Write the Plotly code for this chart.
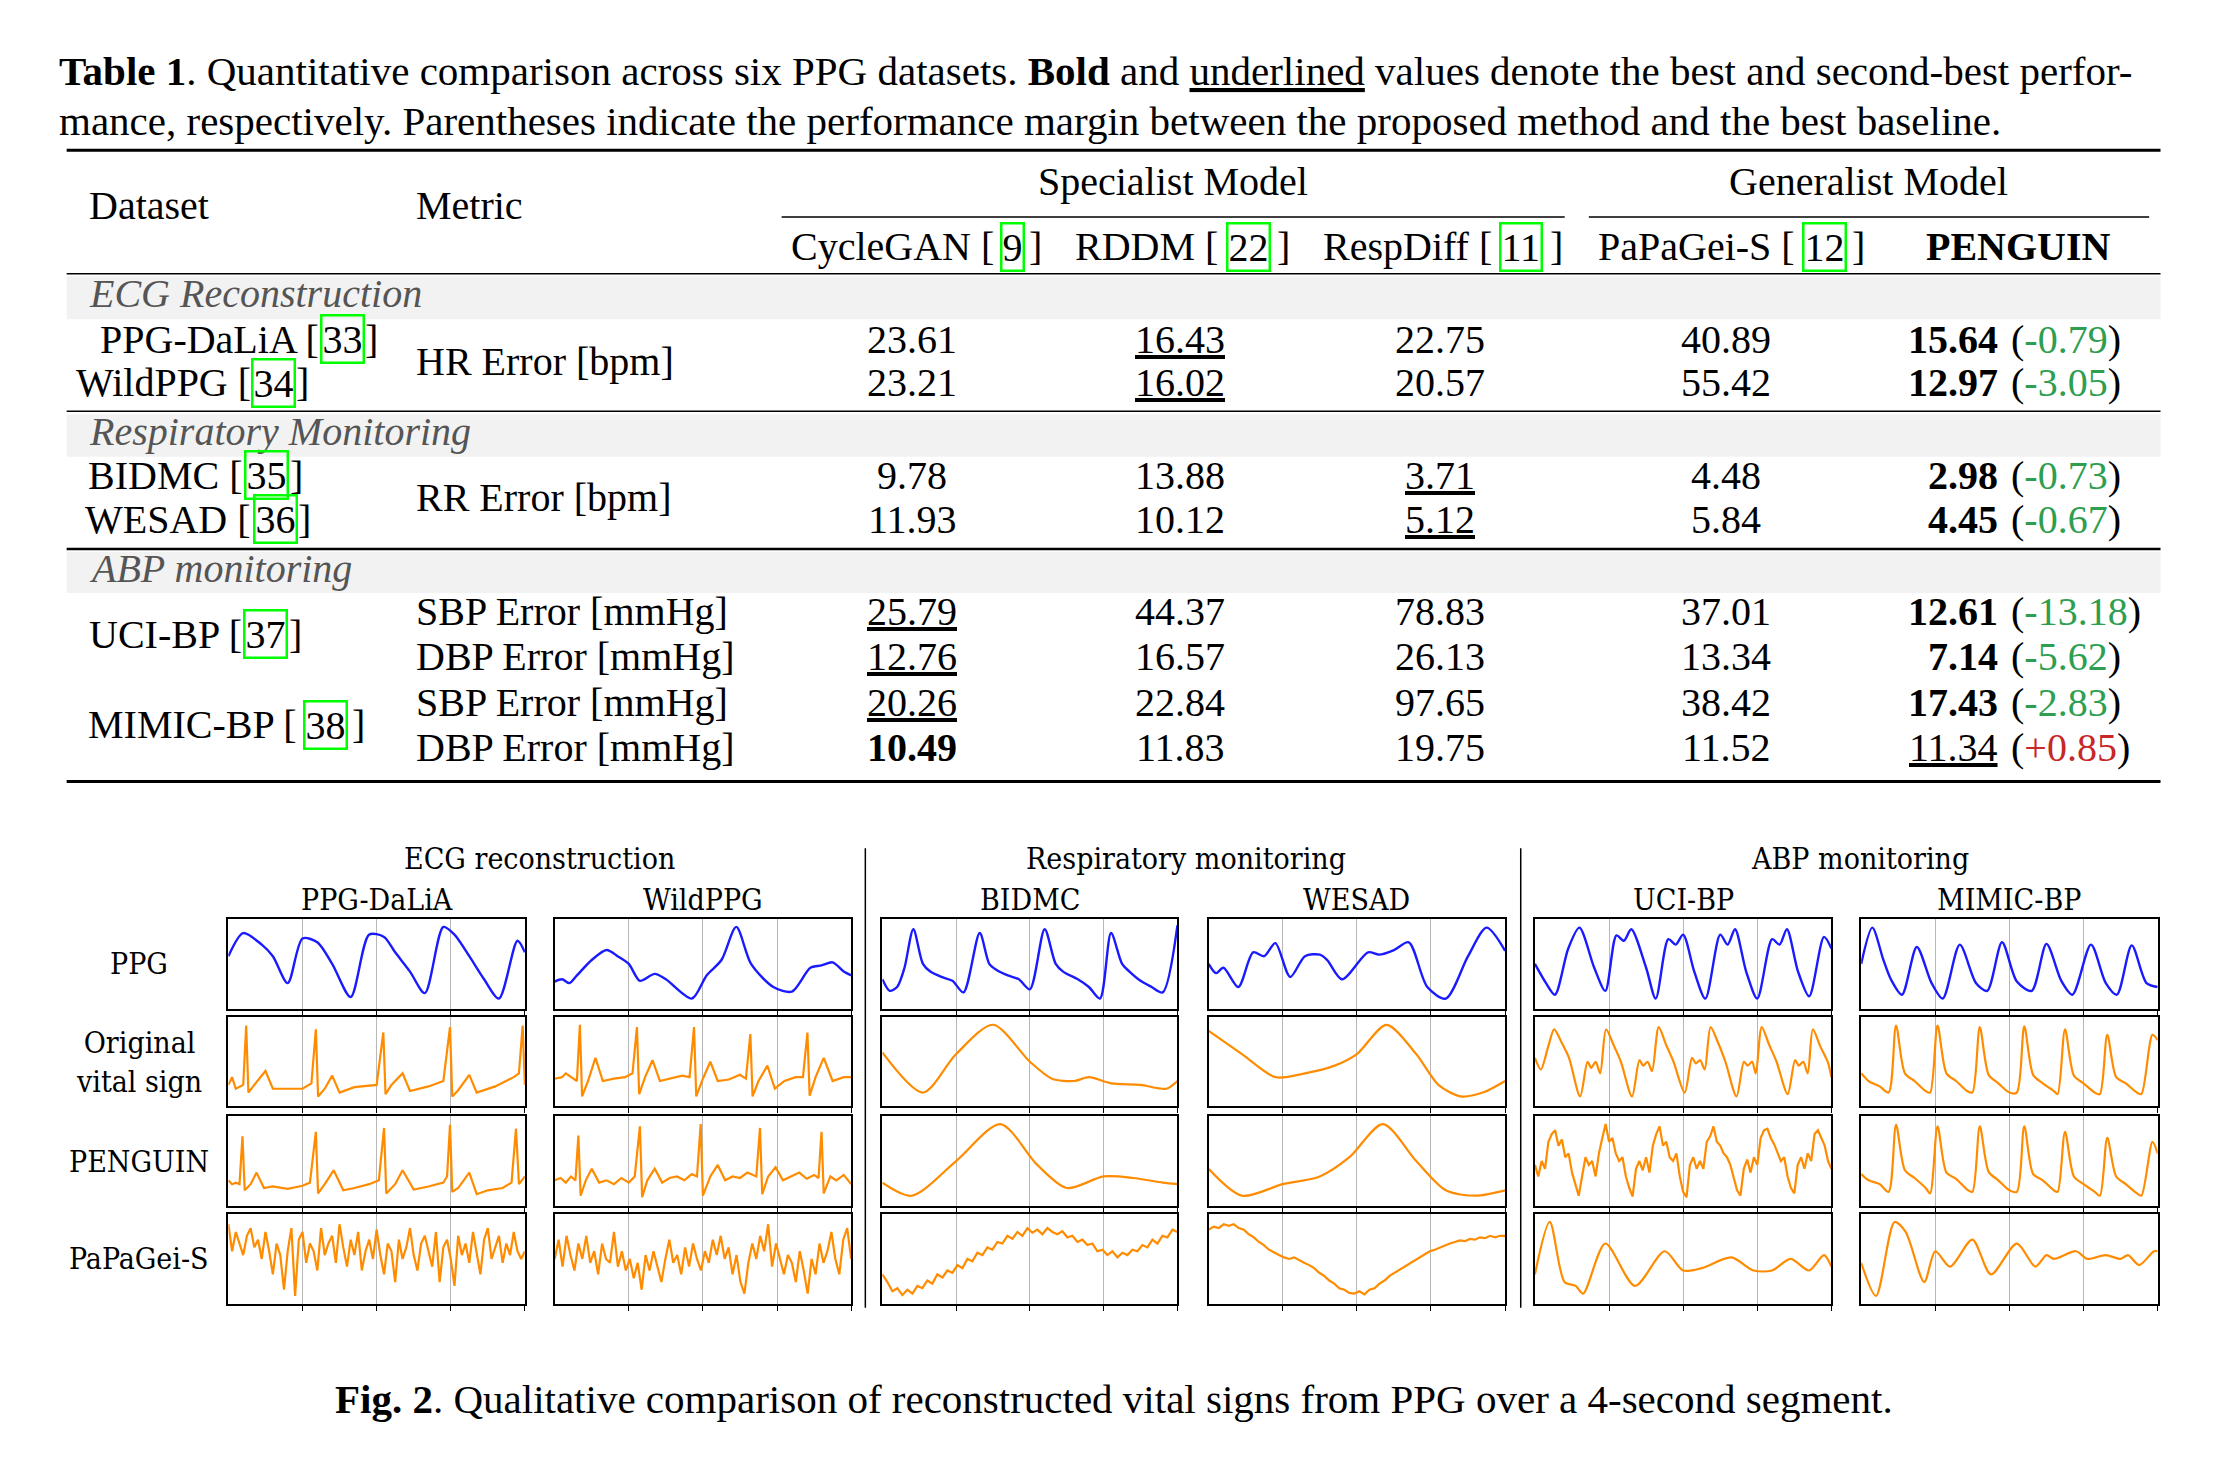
import numpy as np
import plotly.graph_objects as go

# ---------------- table data ----------------
DATASETS = ["PPG-DaLiA", "WildPPG", "BIDMC", "WESAD", "UCI-BP", "", "MIMIC-BP", ""]
DATASET_REFS = ["33", "34", "35", "36", "37", "", "38", ""]
METRICS = ["HR Error [bpm]", "RR Error [bpm]", "SBP Error [mmHg]", "DBP Error [mmHg]", "SBP Error [mmHg]", "DBP Error [mmHg]"]
METHODS = ["CycleGAN", "RDDM", "RespDiff", "PaPaGei-S", "PENGUIN"]
METHOD_REFS = ["9", "22", "11", "12", ""]
CYCLEGAN = ["23.61", "23.21", "9.78", "11.93", "25.79", "12.76", "20.26", "10.49"]
RDDM = ["16.43", "16.02", "13.88", "10.12", "44.37", "16.57", "22.84", "11.83"]
RESPDIFF = ["22.75", "20.57", "3.71", "5.12", "78.83", "26.13", "97.65", "19.75"]
PAPAGEI = ["40.89", "55.42", "4.48", "5.84", "37.01", "13.34", "38.42", "11.52"]
PENGUIN = ["15.64", "12.97", "2.98", "4.45", "12.61", "7.14", "17.43", "11.34"]
MARGINS = ["-0.79", "-3.05", "-0.73", "-0.67", "-13.18", "-5.62", "-2.83", "+0.85"]
# style: b = bold, u = underline
CYCLEGAN_S = ["", "", "", "", "u", "u", "u", "b"]
RDDM_S = ["u", "u", "", "", "", "", "", ""]
RESPDIFF_S = ["", "", "u", "u", "", "", "", ""]
PAPAGEI_S = [""] * 8
PENGUIN_S = ["b", "b", "b", "b", "b", "b", "b", "u"]
SECTIONS = ["ECG Reconstruction", "Respiratory Monitoring", "ABP monitoring"]

# ---------------- signal data ----------------
GROUPS = ["ECG reconstruction", "Respiratory monitoring", "ABP monitoring"]
PANEL_TITLES = ["PPG-DaLiA", "WildPPG", "BIDMC", "WESAD", "UCI-BP", "MIMIC-BP"]
ROW_LABELS = ["PPG", "Original<br>vital sign", "PENGUIN", "PaPaGei-S"]

DALIA_PPG_T = [0,0.2,0.45,0.6,0.8,1.0,1.2,1.4,1.65,1.9,2.1,2.25,2.45,2.65,2.9,3.05,3.25,3.45,3.65,3.9,4.0]
DALIA_PPG_V = [0.6,0.9,0.75,0.6,0.25,0.83,0.78,0.5,0.07,0.88,0.85,0.65,0.4,0.12,0.98,0.88,0.6,0.3,0.05,0.8,0.65]
WILD_PPG_T = [0,0.1,0.2,0.3,0.5,0.7,0.85,1.0,1.15,1.35,1.5,1.85,2.05,2.25,2.45,2.65,2.95,3.2,3.45,3.6,3.75,3.9,4.0]
WILD_PPG_V = [0.27,0.3,0.25,0.35,0.55,0.68,0.6,0.5,0.28,0.37,0.3,0.05,0.35,0.55,0.98,0.5,0.2,0.14,0.45,0.48,0.52,0.4,0.35]
BIDMC_PPG_T = [0,0.1,0.2,0.3,0.42,0.55,0.65,0.8,0.95,1.1,1.32,1.45,1.55,1.7,1.85,2.0,2.2,2.35,2.45,2.65,2.8,2.95,3.1,3.25,3.35,3.5,3.65,3.8,4.0]
BIDMC_PPG_V = [0.3,0.15,0.2,0.45,0.95,0.5,0.4,0.33,0.28,0.13,0.9,0.5,0.42,0.35,0.3,0.17,0.95,0.5,0.4,0.3,0.2,0.05,0.9,0.5,0.4,0.28,0.2,0.13,1.0]
WESAD_PPG_T = [0,0.1,0.2,0.4,0.6,0.75,0.9,1.1,1.3,1.5,1.6,1.8,2.15,2.3,2.5,2.7,2.95,3.2,3.5,3.75,4.0]
WESAD_PPG_V = [0.5,0.38,0.45,0.2,0.65,0.6,0.77,0.33,0.6,0.62,0.55,0.3,0.65,0.62,0.68,0.78,0.2,0.05,0.6,0.97,0.67]
UCI_PPG_T = [0,0.15,0.27,0.45,0.6,0.8,0.95,1.1,1.2,1.3,1.5,1.63,1.8,1.9,2.0,2.15,2.3,2.5,2.6,2.7,2.85,3.0,3.2,3.3,3.4,3.55,3.7,3.9,4.0]
UCI_PPG_V = [0.5,0.25,0.1,0.7,0.97,0.45,0.15,0.87,0.8,0.95,0.45,0.05,0.82,0.75,0.88,0.4,0.05,0.88,0.75,0.95,0.4,0.05,0.82,0.75,0.95,0.4,0.08,0.85,0.7]
MIMIC_PPG_T = [0,0.15,0.3,0.4,0.55,0.75,0.95,1.1,1.33,1.55,1.7,1.9,2.1,2.3,2.5,2.7,2.85,3.1,3.3,3.45,3.65,3.85,4.0]
MIMIC_PPG_V = [0.5,0.97,0.55,0.3,0.1,0.72,0.25,0.05,0.75,0.25,0.15,0.78,0.27,0.15,0.76,0.28,0.1,0.75,0.25,0.1,0.74,0.25,0.2]

DALIA_ORIG_T = [0,0.05,0.1,0.2,0.24,0.27,0.35,0.5,0.6,0.75,1.0,1.12,1.18,1.21,1.3,1.4,1.5,1.7,2.0,2.09,2.12,2.2,2.35,2.45,2.7,2.9,2.99,3.02,3.1,3.25,3.35,3.6,3.85,3.92,3.97,4.0]
DALIA_ORIG_V = [0.2,0.3,0.15,0.2,0.97,0.1,0.2,0.38,0.15,0.15,0.15,0.22,0.92,0.05,0.15,0.32,0.1,0.17,0.2,0.88,0.08,0.2,0.35,0.12,0.18,0.25,0.95,0.05,0.13,0.33,0.1,0.18,0.3,0.35,0.97,0.2]
WILD_ORIG_T = [0,0.1,0.15,0.25,0.3,0.34,0.37,0.45,0.55,0.65,0.8,0.95,1.05,1.11,1.14,1.22,1.32,1.42,1.55,1.72,1.82,1.88,1.91,2.0,2.1,2.2,2.35,2.5,2.58,2.64,2.67,2.75,2.87,2.97,3.1,3.25,3.35,3.41,3.44,3.52,3.63,3.75,3.9,4.0]
WILD_ORIG_V = [0.28,0.3,0.35,0.28,0.25,0.98,0.05,0.25,0.55,0.25,0.28,0.3,0.35,0.95,0.08,0.3,0.52,0.25,0.28,0.32,0.3,0.95,0.05,0.28,0.5,0.25,0.27,0.33,0.28,0.86,0.05,0.25,0.45,0.15,0.25,0.3,0.3,0.88,0.06,0.3,0.55,0.25,0.3,0.3]
BIDMC_ORIG_T = [0,0.55,1.0,1.5,2.0,2.3,2.6,2.8,3.1,3.5,3.85,4.0]
BIDMC_ORIG_V = [0.62,0.1,0.6,0.98,0.5,0.28,0.25,0.3,0.22,0.2,0.15,0.25]
WESAD_ORIG_T = [0,0.45,0.9,1.3,1.7,2.0,2.4,2.8,3.1,3.4,3.7,4.0]
WESAD_ORIG_V = [0.9,0.6,0.3,0.35,0.45,0.6,0.98,0.6,0.2,0.05,0.1,0.25]
UCI_ORIG_T = [0,0.08,0.18,0.26,0.36,0.46,0.61,0.71,0.76,0.82,0.88,0.96,1.06,1.16,1.31,1.41,1.46,1.52,1.58,1.67,1.77,1.87,2.02,2.12,2.17,2.23,2.29,2.37,2.47,2.57,2.72,2.82,2.87,2.93,2.98,3.06,3.16,3.26,3.41,3.51,3.56,3.62,3.68,3.75,3.85,3.95,4.0]
UCI_ORIG_V = [0.55,0.4,0.7,0.92,0.75,0.55,0.05,0.5,0.42,0.5,0.35,0.92,0.72,0.5,0.05,0.52,0.45,0.5,0.38,0.95,0.72,0.5,0.1,0.55,0.48,0.52,0.4,0.95,0.75,0.5,0.05,0.5,0.45,0.5,0.35,0.95,0.72,0.5,0.08,0.52,0.45,0.5,0.35,0.92,0.7,0.5,0.3]
MIMIC_ORIG_T = [0,0.1,0.25,0.37,0.47,0.59,0.72,0.87,0.93,1.03,1.15,1.28,1.43,1.5,1.6,1.72,1.85,2.0,2.1,2.2,2.32,2.45,2.6,2.65,2.75,2.87,3.0,3.15,3.22,3.32,3.44,3.57,3.72,3.78,3.93,4.0]
MIMIC_ORIG_V = [0.35,0.25,0.18,0.1,0.97,0.35,0.25,0.12,0.1,0.97,0.35,0.25,0.12,0.1,0.95,0.33,0.22,0.1,0.1,0.96,0.33,0.22,0.12,0.08,0.92,0.32,0.22,0.1,0.08,0.85,0.3,0.22,0.1,0.08,0.85,0.78]

DALIA_PEN_T = [0,0.05,0.1,0.15,0.19,0.22,0.3,0.38,0.48,0.6,0.8,1.0,1.1,1.18,1.21,1.3,1.42,1.55,1.7,1.9,2.03,2.1,2.13,2.25,2.35,2.5,2.7,2.9,2.95,2.99,3.02,3.1,3.25,3.35,3.5,3.7,3.82,3.88,3.92,4.0]
DALIA_PEN_V = [0.25,0.2,0.22,0.2,0.82,0.12,0.2,0.35,0.15,0.17,0.14,0.18,0.22,0.88,0.08,0.2,0.38,0.12,0.15,0.2,0.25,0.93,0.08,0.2,0.38,0.13,0.17,0.22,0.3,0.97,0.1,0.15,0.35,0.07,0.12,0.15,0.22,0.92,0.2,0.3]
WILD_PEN_T = [0,0.08,0.15,0.22,0.28,0.32,0.35,0.42,0.5,0.6,0.7,0.8,0.9,1.0,1.08,1.15,1.18,1.25,1.35,1.45,1.55,1.65,1.75,1.85,1.92,1.97,2.0,2.1,2.2,2.3,2.4,2.5,2.6,2.72,2.77,2.8,2.88,2.98,3.08,3.2,3.3,3.4,3.5,3.56,3.6,3.63,3.72,3.8,3.9,4.0]
WILD_PEN_V = [0.25,0.28,0.22,0.3,0.25,0.83,0.05,0.25,0.4,0.22,0.25,0.2,0.28,0.22,0.3,0.95,0.03,0.25,0.4,0.22,0.28,0.3,0.25,0.33,0.3,0.98,0.05,0.3,0.45,0.25,0.3,0.28,0.35,0.3,0.93,0.07,0.3,0.42,0.25,0.3,0.35,0.27,0.32,0.28,0.88,0.08,0.3,0.25,0.32,0.2]
BIDMC_PEN_T = [0,0.4,1.0,1.6,2.1,2.5,3.0,3.4,3.8,4.0]
BIDMC_PEN_V = [0.22,0.05,0.5,0.98,0.45,0.15,0.3,0.28,0.22,0.2]
WESAD_PEN_T = [0,0.45,1.0,1.5,1.9,2.35,2.8,3.2,3.6,4.0]
WESAD_PEN_V = [0.4,0.05,0.2,0.3,0.55,0.98,0.5,0.12,0.05,0.12]
UCI_PEN_V = [0.45,0.3,0.5,0.4,0.75,0.85,
             0.9,0.7,0.78,0.55,0.6,0.35,0.2,0.05,0.3,0.55,0.45,0.5,0.3,0.6,0.8,0.98,
             0.75,0.8,0.6,0.5,0.55,0.3,0.15,0.04,0.4,0.5,0.38,0.55,0.35,0.7,0.85,0.95,
             0.7,0.75,0.55,0.5,0.6,0.3,0.1,0.03,0.45,0.55,0.4,0.5,0.4,0.75,0.82,0.95,
             0.75,0.7,0.6,0.55,0.45,0.3,0.12,0.05,0.4,0.52,0.35,0.55,0.45,0.8,0.9,0.92,
             0.8,0.72,0.6,0.5,0.55,0.3,0.15,0.08,0.45,0.55,0.4,0.6,0.5,0.85,0.9,0.8,0.7,0.5,0.4]
MIMIC_PEN_V = [0.33,0.25,0.2,0.1,0.97,0.38,0.28,0.15,0.08,0.95,0.35,0.27,0.13,0.1,0.95,0.36,0.25,0.12,0.1,0.95,0.33,0.25,0.12,0.1,0.88,0.3,0.2,0.1,0.05,0.8,0.3,0.2,0.08,0.05,0.75,0.6]

DALIA_PAP_V = [0.95,0.6,0.85,0.7,0.55,0.8,0.9,0.65,0.75,0.5,0.85,0.6,0.3,0.7,0.55,0.1,0.6,0.9,0.02,0.75,0.85,0.45,0.7,0.6,0.35,0.9,0.55,0.7,0.8,0.45,0.95,0.65,0.4,0.75,0.55,0.85,0.35,0.6,0.75,0.5,0.88,0.55,0.3,0.7,0.6,0.2,0.75,0.5,0.65,0.9,0.55,0.35,0.7,0.8,0.6,0.4,0.85,0.2,0.65,0.75,0.5,0.15,0.8,0.55,0.7,0.45,0.85,0.6,0.3,0.75,0.9,0.5,0.65,0.8,0.45,0.7,0.55,0.85,0.6,0.5,0.6]
WILD_PAP_V = [0.5,0.75,0.4,0.8,0.55,0.35,0.7,0.5,0.8,0.45,0.6,0.3,0.7,0.5,0.45,0.85,0.4,0.6,0.35,0.5,0.25,0.45,0.1,0.55,0.35,0.6,0.4,0.2,0.5,0.75,0.45,0.55,0.3,0.65,0.4,0.7,0.5,0.35,0.6,0.45,0.75,0.55,0.8,0.5,0.65,0.3,0.55,0.2,0.05,0.45,0.7,0.5,0.8,0.6,0.95,0.4,0.7,0.5,0.3,0.55,0.45,0.2,0.6,0.35,0.05,0.5,0.3,0.7,0.45,0.6,0.85,0.5,0.3,0.75,0.9,0.5]
BIDMC_PAP_V = [0.3,0.2,0.08,0.12,0.03,0.1,0.05,0.15,0.12,0.22,0.18,0.3,0.26,0.35,0.32,0.42,0.38,0.5,0.47,0.58,0.55,0.65,0.62,0.72,0.7,0.8,0.76,0.85,0.8,0.9,0.84,0.88,0.82,0.9,0.85,0.82,0.86,0.78,0.8,0.72,0.75,0.68,0.7,0.6,0.62,0.55,0.6,0.52,0.58,0.55,0.62,0.6,0.68,0.65,0.75,0.7,0.8,0.78,0.88,0.85]
WESAD_PAP_V = [0.88,0.92,0.9,0.95,0.93,0.95,0.9,0.88,0.82,0.78,0.72,0.68,0.62,0.58,0.55,0.52,0.5,0.52,0.48,0.45,0.42,0.38,0.32,0.28,0.22,0.18,0.12,0.1,0.06,0.05,0.08,0.04,0.1,0.12,0.18,0.22,0.28,0.32,0.36,0.4,0.45,0.48,0.52,0.56,0.6,0.62,0.65,0.68,0.7,0.72,0.74,0.73,0.76,0.75,0.78,0.77,0.8,0.78,0.8,0.8]
UCI_PAP_T = [0,0.2,0.4,0.55,0.65,0.95,1.35,1.75,2.0,2.25,2.65,2.95,3.2,3.45,3.7,3.9,4.0]
UCI_PAP_V = [0.3,0.98,0.2,0.15,0.05,0.7,0.15,0.6,0.35,0.38,0.52,0.35,0.35,0.5,0.35,0.55,0.4]
MIMIC_PAP_T = [0,0.2,0.45,0.6,0.85,1.0,1.2,1.5,1.75,2.1,2.35,2.5,2.6,2.9,3.05,3.3,3.5,3.6,3.75,3.95,4.0]
MIMIC_PAP_V = [0.45,0.02,0.98,0.85,0.2,0.6,0.4,0.75,0.3,0.7,0.4,0.55,0.5,0.6,0.5,0.55,0.5,0.55,0.42,0.6,0.6]

def even(v):
    return list(np.linspace(0, 4, len(v)))

SIGNALS = [
    [(DALIA_PPG_T, DALIA_PPG_V, "spline"), (WILD_PPG_T, WILD_PPG_V, "spline"), (BIDMC_PPG_T, BIDMC_PPG_V, "spline"),
     (WESAD_PPG_T, WESAD_PPG_V, "spline"), (UCI_PPG_T, UCI_PPG_V, "spline"), (MIMIC_PPG_T, MIMIC_PPG_V, "spline")],
    [(DALIA_ORIG_T, DALIA_ORIG_V, "linear"), (WILD_ORIG_T, WILD_ORIG_V, "linear"), (BIDMC_ORIG_T, BIDMC_ORIG_V, "spline"),
     (WESAD_ORIG_T, WESAD_ORIG_V, "spline"), (UCI_ORIG_T, UCI_ORIG_V, "spline"), (MIMIC_ORIG_T, MIMIC_ORIG_V, "spline")],
    [(DALIA_PEN_T, DALIA_PEN_V, "linear"), (WILD_PEN_T, WILD_PEN_V, "linear"), (BIDMC_PEN_T, BIDMC_PEN_V, "spline"),
     (WESAD_PEN_T, WESAD_PEN_V, "spline"), (even(UCI_PEN_V), UCI_PEN_V, "linear"), (MIMIC_ORIG_T, MIMIC_PEN_V, "spline")],
    [(even(DALIA_PAP_V), DALIA_PAP_V, "linear"), (even(WILD_PAP_V), WILD_PAP_V, "linear"), (even(BIDMC_PAP_V), BIDMC_PAP_V, "linear"),
     (even(WESAD_PAP_V), WESAD_PAP_V, "linear"), (UCI_PAP_T, UCI_PAP_V, "spline"), (MIMIC_PAP_T, MIMIC_PAP_V, "spline")],
]

# ---------------- layout helpers (reference coords in a 1560x1037 frame) ----------------
W, H = 2213, 1471
M = 8  # default page body margin
FW, FH = W - 2 * M, H - 2 * M
SX, SY = W / 1560.0, H / 1037.0
def X(d): return (d * SX - M) / FW
def Y(d): return 1 - (d * SY - M) / FH

SERIF = "Liberation Serif"
FIGF = "DejaVu Serif Condensed, DejaVu Serif"
TS = 40
fig = go.Figure()
ann = []
shapes = []

def text(t, x, y, xa="left", size=TS, color="black", family=SERIF, **kw):
    ann.append(dict(text=t, x=X(x), y=Y(y), xref="paper", yref="paper", xanchor=xa, yanchor="middle",
                    showarrow=False, font=dict(size=size, color=color, family=family), **kw))

def hline(y, x0, x1, w):
    shapes.append(dict(type="line", xref="paper", yref="paper", x0=X(x0), x1=X(x1), y0=Y(y), y1=Y(y),
                       line=dict(color="black", width=w)))

def refbox(num, cx, y):
    text(num, cx, y, xa="center", bordercolor="#00ff00", borderwidth=2.5, borderpad=0)

UL = "<span style='text-decoration:underline'>%s</span>"

# caption
text("<b>Table 1</b>. Quantitative comparison across six PPG datasets. <b>Bold</b> and " + UL % "underlined" +
     " values denote the best and second-best perfor-", 40, 50, size=41)
text("mance, respectively. Parentheses indicate the performance margin between the proposed method and the best baseline.",
     40, 85, size=41)

for (y0, y1) in [(195, 225), (292, 322), (389, 418)]:
    shapes.append(dict(type="rect", xref="paper", yref="paper", x0=X(47), x1=X(1523), y0=Y(y1), y1=Y(y0),
                       fillcolor="#f2f2f2", line=dict(width=0), layer="below"))
hline(106, 47, 1523, 3)
hline(153, 551, 1103, 1.5)
hline(153, 1120, 1515, 1.5)
hline(193, 47, 1523, 1.5)
hline(290, 47, 1523, 1.5)
hline(387, 47, 1523, 2.5)
hline(551, 47, 1523, 3)

text("Dataset", 61, 145)
text("Metric", 292, 145)
text("Specialist Model", 827, 128, xa="center")
text("Generalist Model", 1317, 128, xa="center")
box_ranges = [(700, 727), (858, 902), (1051, 1094), (1265, 1307)]
for i, m in enumerate(METHODS[:4]):
    b0, b1 = box_ranges[i]
    text(m + " [", b0 + 2, 174, xa="right")
    refbox(METHOD_REFS[i], (b0 + b1) / 2, 174)
    text("]", b1 - 3, 174)
text("<b>PENGUIN</b>", 1423, 174, xa="center")

for s, y in zip(SECTIONS, [207, 304, 401]):
    text("<i>%s</i>" % s, 61, y, color="#555555")

row_y = [239, 270, 335, 366, 431, 463, 495, 527]
ds_pos = [(239, 224, 259), (270, 176, 210), (335, 170, 206), (366, 176, 212), (447, 170, 205), (511, 209, 250)]
ds_names = [d for d in DATASETS if d]
ds_refs = [r for r in DATASET_REFS if r]
for name, ref, (y, b0, b1) in zip(ds_names, ds_refs, ds_pos):
    text(name + " [", b0 + 2, y, xa="right")
    refbox(ref, (b0 + b1) / 2, y)
    text("]", b1 - 3, y)

for m, y in zip(METRICS, [255, 351, 431, 463, 495, 527]):
    text(m, 292, y)

def fmt(v, s):
    if s == "b":
        return "<b>%s</b>" % v
    if s == "u":
        return UL % v
    return v

for vals, sty, cx in [(CYCLEGAN, CYCLEGAN_S, 643), (RDDM, RDDM_S, 832), (RESPDIFF, RESPDIFF_S, 1015),
                      (PAPAGEI, PAPAGEI_S, 1217)]:
    for v, s, y in zip(vals, sty, row_y):
        text(fmt(v, s), cx, y, xa="center")
for v, s, mg, y in zip(PENGUIN, PENGUIN_S, MARGINS, row_y):
    c = "#c62828" if mg.startswith("+") else "#2e9e50"
    text(fmt(v, s), 1410, y, xa="right")
    text("(<span style='color:%s'>%s</span>)" % (c, mg), 1416, y)

# ---------------- signal panels ----------------
PX = [(161, 370), (391, 600), (622, 830), (852, 1061), (1082, 1291), (1312, 1521)]
PY = [(648, 711), (717, 780), (787, 850), (856, 919)]
layout_axes = {}
for r in range(4):
    for c in range(6):
        k = r * 6 + c + 1
        sfx = "" if k == 1 else str(k)
        t, v, shp = SIGNALS[r][c]
        color = "#1a1aff" if r == 0 else "#ff8c00"
        line = dict(color=color, width=2.4 if r == 0 else 2.2, shape=shp)
        if shp == "spline":
            line["smoothing"] = 0.8
        fig.add_trace(go.Scatter(x=t, y=v, mode="lines", line=line, xaxis="x" + sfx, yaxis="y" + sfx,
                                 hoverinfo="skip", showlegend=False))
        layout_axes["xaxis" + sfx] = dict(domain=[X(PX[c][0]), X(PX[c][1])], range=[0, 4], anchor="y" + sfx,
                                          showgrid=True, gridcolor="#b8b8b8", gridwidth=1, tickvals=[1, 2, 3, 4],
                                          showticklabels=False, ticks="outside", ticklen=5, tickcolor="black",
                                          showline=True, linecolor="black", linewidth=2, mirror=True, zeroline=False)
        layout_axes["yaxis" + sfx] = dict(domain=[Y(PY[r][1]), Y(PY[r][0])], range=[-0.08, 1.08], anchor="x" + sfx,
                                          showgrid=False, showticklabels=False, ticks="", showline=True,
                                          linecolor="black", linewidth=2, mirror=True, zeroline=False)

FS = 30
for g, cx in zip(GROUPS, [380, 836, 1311]):
    text(g, cx, 605, xa="center", size=FS, family=FIGF)
for p, (x0, x1) in zip(PANEL_TITLES, PX):
    text(p, (x0 + x1) / 2, 634, xa="center", size=FS, family=FIGF)
for lab, (y0, y1) in zip(ROW_LABELS, PY):
    text(lab, 98, (y0 + y1) / 2, xa="center", size=FS, family=FIGF)
for sx in [610, 1072]:
    shapes.append(dict(type="line", xref="paper", yref="paper", x0=X(sx), x1=X(sx), y0=Y(598), y1=Y(922),
                       line=dict(color="black", width=1.5)))

text("<b>Fig. 2</b>. Qualitative comparison of reconstructed vital signs from PPG over a 4-second segment.",
     785, 986, xa="center", size=41)

fig.update_layout(width=FW, height=FH, margin=dict(l=0, r=0, t=0, b=0), paper_bgcolor="white",
                  plot_bgcolor="white", annotations=ann, shapes=shapes, showlegend=False, **layout_axes)
fig.write_html("out.html")
